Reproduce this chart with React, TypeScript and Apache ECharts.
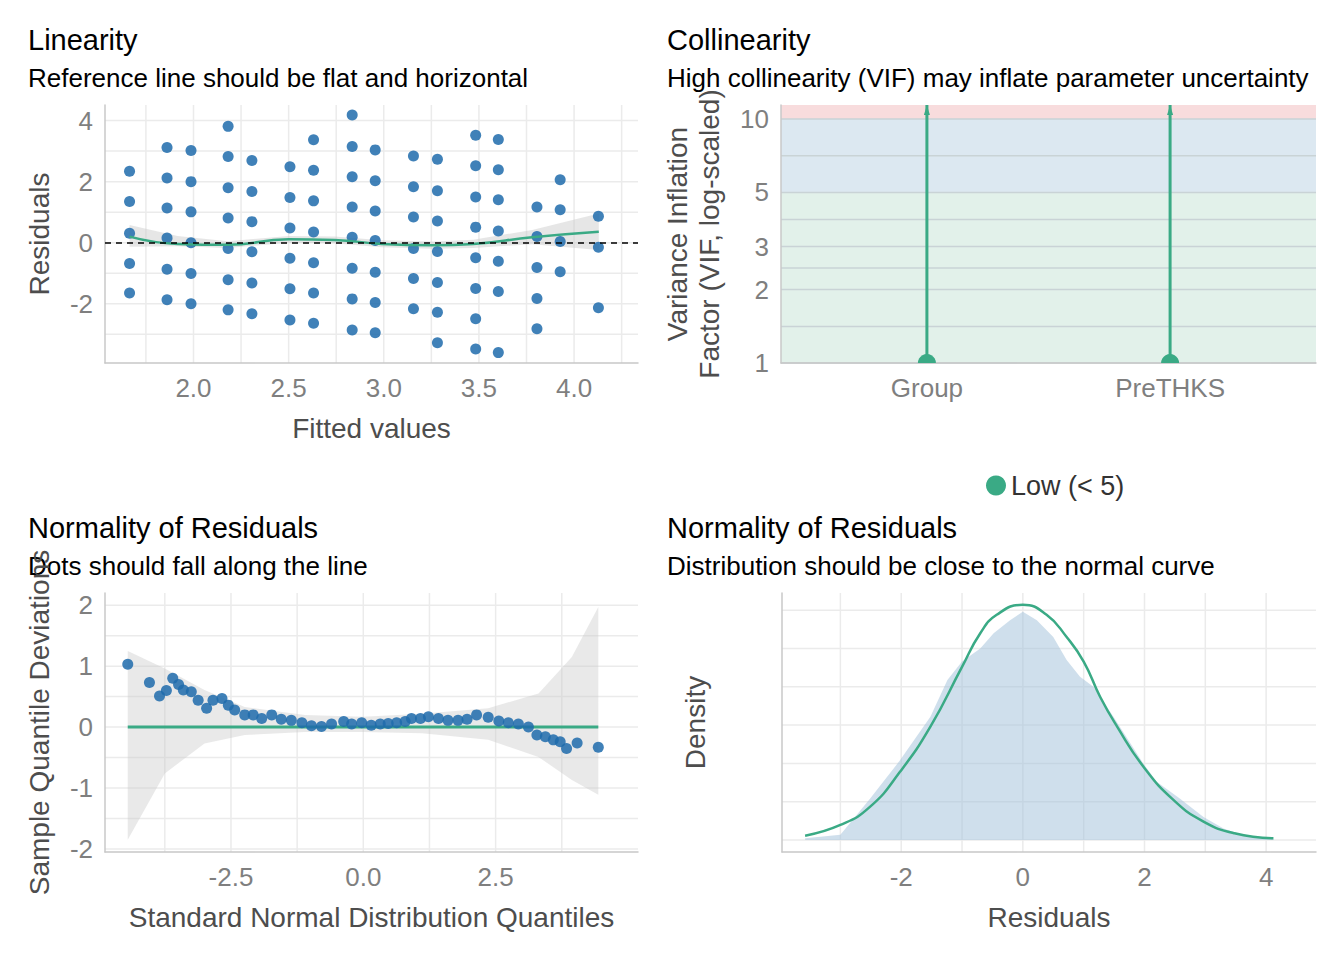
import { useEffect, useRef } from "react";
import * as echarts from "echarts";

// ---- Linearity: fitted values vs residuals ----
const linX = [1.664, 1.861, 1.987, 2.182, 2.307, 2.507, 2.631, 2.834, 2.955, 3.156, 3.282, 3.483, 3.602, 3.805, 3.927, 4.128];
const linRes: number[][] = [
  [2.34, 1.35, 0.31, -0.68, -1.65],
  [3.12, 2.12, 1.14, 0.15, -0.87, -1.87],
  [3.02, 2.0, 1.01, 0.0, -1.01, -2.0],
  [3.81, 2.82, 1.8, 0.81, -0.19, -1.21, -2.2],
  [2.69, 1.68, 0.69, -0.3, -1.32, -2.33],
  [2.49, 1.48, 0.48, -0.51, -1.51, -2.53],
  [3.37, 2.37, 1.37, 0.35, -0.66, -1.65, -2.64],
  [4.18, 3.15, 2.16, 1.17, 0.18, -0.84, -1.84, -2.86],
  [3.04, 2.03, 1.04, 0.07, -0.97, -1.96, -2.95],
  [2.84, 1.83, 0.84, -0.19, -1.17, -2.16],
  [2.73, 1.7, 0.71, -0.29, -1.3, -2.28, -3.28],
  [3.52, 2.52, 1.5, 0.51, -0.49, -1.5, -2.49, -3.48],
  [3.38, 2.39, 1.41, 0.38, -0.61, -1.6, -3.6],
  [1.17, 0.2, -0.81, -1.83, -2.82],
  [2.06, 1.08, 0.04, -0.95],
  [0.87, -0.15, -2.13],
];
const loessX = [1.664, 1.916, 2.18, 2.5, 2.74, 2.99, 3.26, 3.47, 3.78, 4.13];
const loessY = [0.2, -0.04, -0.07, 0.11, 0.09, -0.04, -0.08, -0.04, 0.18, 0.36];
const loessHi = [0.58, 0.22, 0.05, 0.22, 0.2, 0.08, 0.04, 0.1, 0.42, 0.96];
const loessLo = [-0.13, -0.12, -0.17, 0.0, -0.02, -0.15, -0.2, -0.17, -0.05, -0.24];

// ---- Collinearity ----
const vifTerms = ["Group", "PreTHKS"];
const vifValues = [1.0, 1.0];
const vifUpper = [20, 20];
const vifTicks = [1, 2, 3, 5, 10];
const vifGrid = [1, 1.41, 2, 2.45, 3, 3.87, 5, 7.07, 10];

// ---- QQ plot ----
const qqTheo = [-4.45, -4.04, -3.85, -3.72, -3.6, -3.49, -3.4, -3.25, -3.12, -2.96, -2.84, -2.67, -2.55, -2.43, -2.24, -2.08, -1.92, -1.73, -1.55, -1.36, -1.16, -0.98, -0.79, -0.6, -0.37, -0.22, -0.03, 0.15, 0.32, 0.47, 0.63, 0.79, 0.91, 1.08, 1.23, 1.42, 1.6, 1.79, 1.96, 2.14, 2.36, 2.56, 2.74, 2.93, 3.12, 3.28, 3.44, 3.59, 3.72, 3.84, 4.04, 4.44];
const qqSample = [1.03, 0.73, 0.51, 0.6, 0.8, 0.7, 0.61, 0.58, 0.44, 0.31, 0.44, 0.47, 0.36, 0.28, 0.2, 0.2, 0.14, 0.2, 0.13, 0.11, 0.07, 0.02, 0.01, 0.05, 0.09, 0.05, 0.07, 0.03, 0.05, 0.06, 0.07, 0.09, 0.14, 0.14, 0.17, 0.14, 0.11, 0.11, 0.13, 0.2, 0.16, 0.1, 0.07, 0.05, 0.0, -0.13, -0.16, -0.21, -0.24, -0.35, -0.26, -0.33];
const qqBandX = [-4.45, -3.75, -3.0, -2.24, -1.1, 0.0, 1.11, 2.36, 3.31, 3.94, 4.44];
const qqBandHi = [1.25, 0.96, 0.61, 0.33, 0.2, 0.17, 0.22, 0.31, 0.55, 1.15, 1.97];
const qqBandLo = [-1.85, -0.76, -0.27, -0.13, -0.08, -0.08, -0.1, -0.21, -0.49, -0.87, -1.11];

// ---- Density of residuals ----
const curveX = [-3.58, -3.0, -2.51, -2.02, -1.52, -1.0, -0.7, -0.43, 0.0, 0.39, 0.72, 1.0, 1.27, 1.55, 1.98, 2.48, 2.97, 3.48, 4.12];
const curveY = [0.0056, 0.0196, 0.0435, 0.089, 0.148, 0.226, 0.27, 0.294, 0.307, 0.294, 0.265, 0.233, 0.187, 0.148, 0.096, 0.052, 0.024, 0.0087, 0.0022];
const densX = [-3.58, -3.0, -2.51, -2.02, -1.52, -1.24, -1.0, -0.7, -0.48, -0.21, 0.0, 0.23, 0.5, 0.72, 0.94, 1.16, 1.49, 1.98, 2.2, 2.58, 2.97, 3.3, 3.69, 4.12];
const densY = [0.0022, 0.0069, 0.054, 0.104, 0.161, 0.209, 0.233, 0.25, 0.27, 0.287, 0.298, 0.287, 0.265, 0.235, 0.213, 0.2, 0.161, 0.1, 0.076, 0.054, 0.03, 0.015, 0.0043, 0.0015];

const GREEN = "#3aaa85";
const BLUE = "#1f6bab";
const GRIDC = "#ebebeb";
const FONT = "Liberation Sans";
const lg = Math.log10;

function gridSeries(idx: number, xs: number[], ys: number[], color = GRIDC): any {
  return {
    type: "custom", xAxisIndex: idx, yAxisIndex: idx, silent: true, z: 0, data: [[0, 0]],
    renderItem: (params: any, api: any) => {
      const cs = params.coordSys;
      const children: any[] = [];
      xs.forEach((x) => {
        const px = api.coord([x, 0])[0];
        children.push({ type: "line", shape: { x1: px, y1: cs.y, x2: px, y2: cs.y + cs.height }, style: { stroke: color, lineWidth: 1.5 } });
      });
      ys.forEach((y) => {
        const py = api.coord([0, y])[1];
        children.push({ type: "line", shape: { x1: cs.x, y1: py, x2: cs.x + cs.width, y2: py }, style: { stroke: color, lineWidth: 1.5 } });
      });
      return { type: "group", children };
    },
  };
}

function polySeries(idx: number, pts: number[][], fill: string, z = 1): any {
  return {
    type: "custom", xAxisIndex: idx, yAxisIndex: idx, silent: true, z, data: [[0, 0]],
    renderItem: (_p: any, api: any) => ({
      type: "polygon", shape: { points: pts.map((p) => api.coord(p)) }, style: { fill },
    }),
  };
}

const label = { color: "#7f7f7f", fontSize: 26, fontFamily: FONT, margin: 12 };
const nameStyle = { color: "#4d4d4d", fontSize: 28, fontFamily: FONT };
const axisLine = { show: true, onZero: false, lineStyle: { color: "#c8c8c8", width: 1.5 } };

export default function App() {
  const ref = useRef<HTMLDivElement>(null);
  useEffect(() => {
    document.body.style.margin = "0";
    const chart = echarts.init(ref.current!, undefined, { renderer: "svg" });

    const linPts: number[][] = [];
    linX.forEach((x, i) => linRes[i].forEach((r) => linPts.push([x, r])));
    const loessBand = [...loessX.map((x, i) => [x, loessLo[i]]), ...loessX.map((x, i) => [x, loessHi[i]]).reverse()];
    const qqBand = [...qqBandX.map((x, i) => [x, qqBandLo[i]]), ...qqBandX.map((x, i) => [x, qqBandHi[i]]).reverse()];
    const densPoly = [[densX[0], 0], ...densX.map((x, i) => [x, densY[i]]), [densX[densX.length - 1], 0]];

    const base = { axisTick: { show: false }, splitLine: { show: false }, axisLine };
    const title = (x: number, y: number, t: string, s: string) => [
      { type: "text", left: x, top: y, style: { text: t, fontSize: 29, fill: "#000", fontFamily: FONT } },
      { type: "text", left: x, top: y + 40, style: { text: s, fontSize: 26, fill: "#000", fontFamily: FONT } },
    ];

    chart.setOption({
      animation: false,
      graphic: [
        ...title(28, 25, "Linearity", "Reference line should be flat and horizontal"),
        ...title(667, 25, "Collinearity", "High collinearity (VIF) may inflate parameter uncertainty"),
        ...title(28, 513, "Normality of Residuals", "Dots should fall along the line"),
        ...title(667, 513, "Normality of Residuals", "Distribution should be close to the normal curve"),
      ],
      legend: {
        left: 981, top: 467, itemWidth: 20, itemHeight: 20, icon: "circle", itemGap: 10,
        textStyle: { color: "#333", fontSize: 27, fontFamily: FONT },
        data: [{ name: "Low (< 5)", itemStyle: { color: GREEN } }],
      },
      grid: [
        { left: 105, top: 105, width: 533, height: 258 },
        { left: 781, top: 105, width: 535, height: 258 },
        { left: 105, top: 593, width: 533, height: 259 },
        { left: 782, top: 593, width: 534, height: 259 },
      ],
      xAxis: [
        { ...base, type: "value", gridIndex: 0, min: 1.535, max: 4.336, name: "Fitted values", nameLocation: "middle", nameGap: 51, nameTextStyle: nameStyle,
          axisLabel: { ...label, customValues: [2, 2.5, 3, 3.5, 4], formatter: (v: number) => v.toFixed(1) } },
        { ...base, type: "value", gridIndex: 1, min: -0.6, max: 1.6,
          axisLabel: { ...label, customValues: [0, 1], formatter: (v: number) => vifTerms[Math.round(v)] } },
        { ...base, type: "value", gridIndex: 2, min: -4.88, max: 5.19, name: "Standard Normal Distribution Quantiles", nameLocation: "middle", nameGap: 51, nameTextStyle: nameStyle,
          axisLabel: { ...label, customValues: [-2.5, 0, 2.5], formatter: (v: number) => v.toFixed(1) } },
        { ...base, type: "value", gridIndex: 3, min: -3.96, max: 4.82, name: "Residuals", nameLocation: "middle", nameGap: 51, nameTextStyle: nameStyle,
          axisLabel: { ...label, customValues: [-2, 0, 2, 4] } },
      ],
      yAxis: [
        { ...base, type: "value", gridIndex: 0, min: -3.94, max: 4.51, name: "Residuals", nameLocation: "middle", nameGap: 52, nameTextStyle: nameStyle,
          axisLabel: { ...label, customValues: [-2, 0, 2, 4] } },
        { ...base, type: "value", gridIndex: 1, min: 0, max: 1.057, name: "Variance Inflation\nFactor (VIF, log-scaled)", nameLocation: "middle", nameGap: 56,
          nameTextStyle: { ...nameStyle, lineHeight: 32 },
          axisLabel: { ...label, customValues: vifTicks.map(lg), formatter: (v: number) => String(Math.round(10 ** v)) } },
        { ...base, type: "value", gridIndex: 2, min: -2.05, max: 2.2, name: "Sample Quantile Deviations", nameLocation: "middle", nameGap: 52, nameTextStyle: nameStyle,
          axisLabel: { ...label, customValues: [-2, -1, 0, 1, 2] } },
        { ...base, type: "value", gridIndex: 3, min: -0.0157, max: 0.3225, name: "Density", nameLocation: "middle", nameGap: 73, nameTextStyle: nameStyle,
          axisLabel: { show: false } },
      ],
      series: [
        // linearity
        gridSeries(0, [1.75, 2, 2.25, 2.5, 2.75, 3, 3.25, 3.5, 3.75, 4, 4.25], [-3, -2, -1, 0, 1, 2, 3, 4]),
        polySeries(0, loessBand, "rgba(200,200,200,0.45)"),
        { type: "scatter", xAxisIndex: 0, yAxisIndex: 0, data: linPts, symbolSize: 11, z: 2,
          itemStyle: { color: BLUE, opacity: 0.85 },
          markLine: { silent: true, symbol: "none", label: { show: false }, lineStyle: { color: "#000", type: [6, 5], width: 1.5 }, data: [{ yAxis: 0 }] } },
        { type: "line", xAxisIndex: 0, yAxisIndex: 0, data: loessX.map((x, i) => [x, loessY[i]]), smooth: true, showSymbol: false, z: 3,
          lineStyle: { color: GREEN, width: 2.5 } },
        // collinearity
        polySeries(1, [[-0.6, 0], [1.6, 0], [1.6, lg(5)], [-0.6, lg(5)]], "#e2f1ea", 0),
        polySeries(1, [[-0.6, lg(5)], [1.6, lg(5)], [1.6, 1], [-0.6, 1]], "#dce8f1", 0),
        polySeries(1, [[-0.6, 1], [1.6, 1], [1.6, 1.057], [-0.6, 1.057]], "#f8dcdd", 0),
        gridSeries(1, [], vifGrid.map(lg), "#c9d3d6"),
        { type: "custom", name: "Low (< 5)", xAxisIndex: 1, yAxisIndex: 1, clip: true, z: 3, silent: true,
          itemStyle: { color: GREEN },
          data: vifValues.map((v, i) => [i, lg(v), lg(vifUpper[i])]),
          renderItem: (_p: any, api: any) => {
            const a = api.coord([api.value(0), api.value(1)]);
            const b = api.coord([api.value(0), Math.min(api.value(2), 1.057)]);
            return { type: "group", children: [
              { type: "line", shape: { x1: a[0], y1: a[1], x2: b[0], y2: b[1] }, style: { stroke: GREEN, lineWidth: 3 } },
              { type: "polygon", shape: { points: [[b[0] - 3, b[1] + 10], [b[0] + 3, b[1] + 10], [b[0], b[1]]] }, style: { fill: GREEN } },
              { type: "circle", shape: { cx: a[0], cy: a[1], r: 9 }, style: { fill: GREEN } },
            ] };
          } },
        // qq
        gridSeries(2, [-3.75, -2.5, -1.25, 0, 1.25, 2.5, 3.75], [-2, -1.5, -1, -0.5, 0, 0.5, 1, 1.5, 2]),
        polySeries(2, qqBand, "rgba(200,200,200,0.4)"),
        { type: "line", xAxisIndex: 2, yAxisIndex: 2, data: [[qqTheo[0], 0], [qqTheo[qqTheo.length - 1], 0]], showSymbol: false, z: 2,
          lineStyle: { color: GREEN, width: 3 } },
        { type: "scatter", xAxisIndex: 2, yAxisIndex: 2, data: qqTheo.map((x, i) => [x, qqSample[i]]), symbolSize: 11, z: 3,
          itemStyle: { color: BLUE, opacity: 0.85 } },
        // density
        gridSeries(3, [-3, -2, -1, 0, 1, 2, 3, 4], [0, 0.05, 0.1, 0.15, 0.2, 0.25, 0.3]),
        polySeries(3, densPoly, "rgba(160,192,218,0.5)", 2),
        { type: "line", xAxisIndex: 3, yAxisIndex: 3, data: curveX.map((x, i) => [x, curveY[i]]), smooth: true, showSymbol: false, z: 3,
          lineStyle: { color: GREEN, width: 2.5 } },
      ],
    });
    return () => chart.dispose();
  }, []);
  return <div ref={ref} style={{ width: 1344, height: 960 }} />;
}
